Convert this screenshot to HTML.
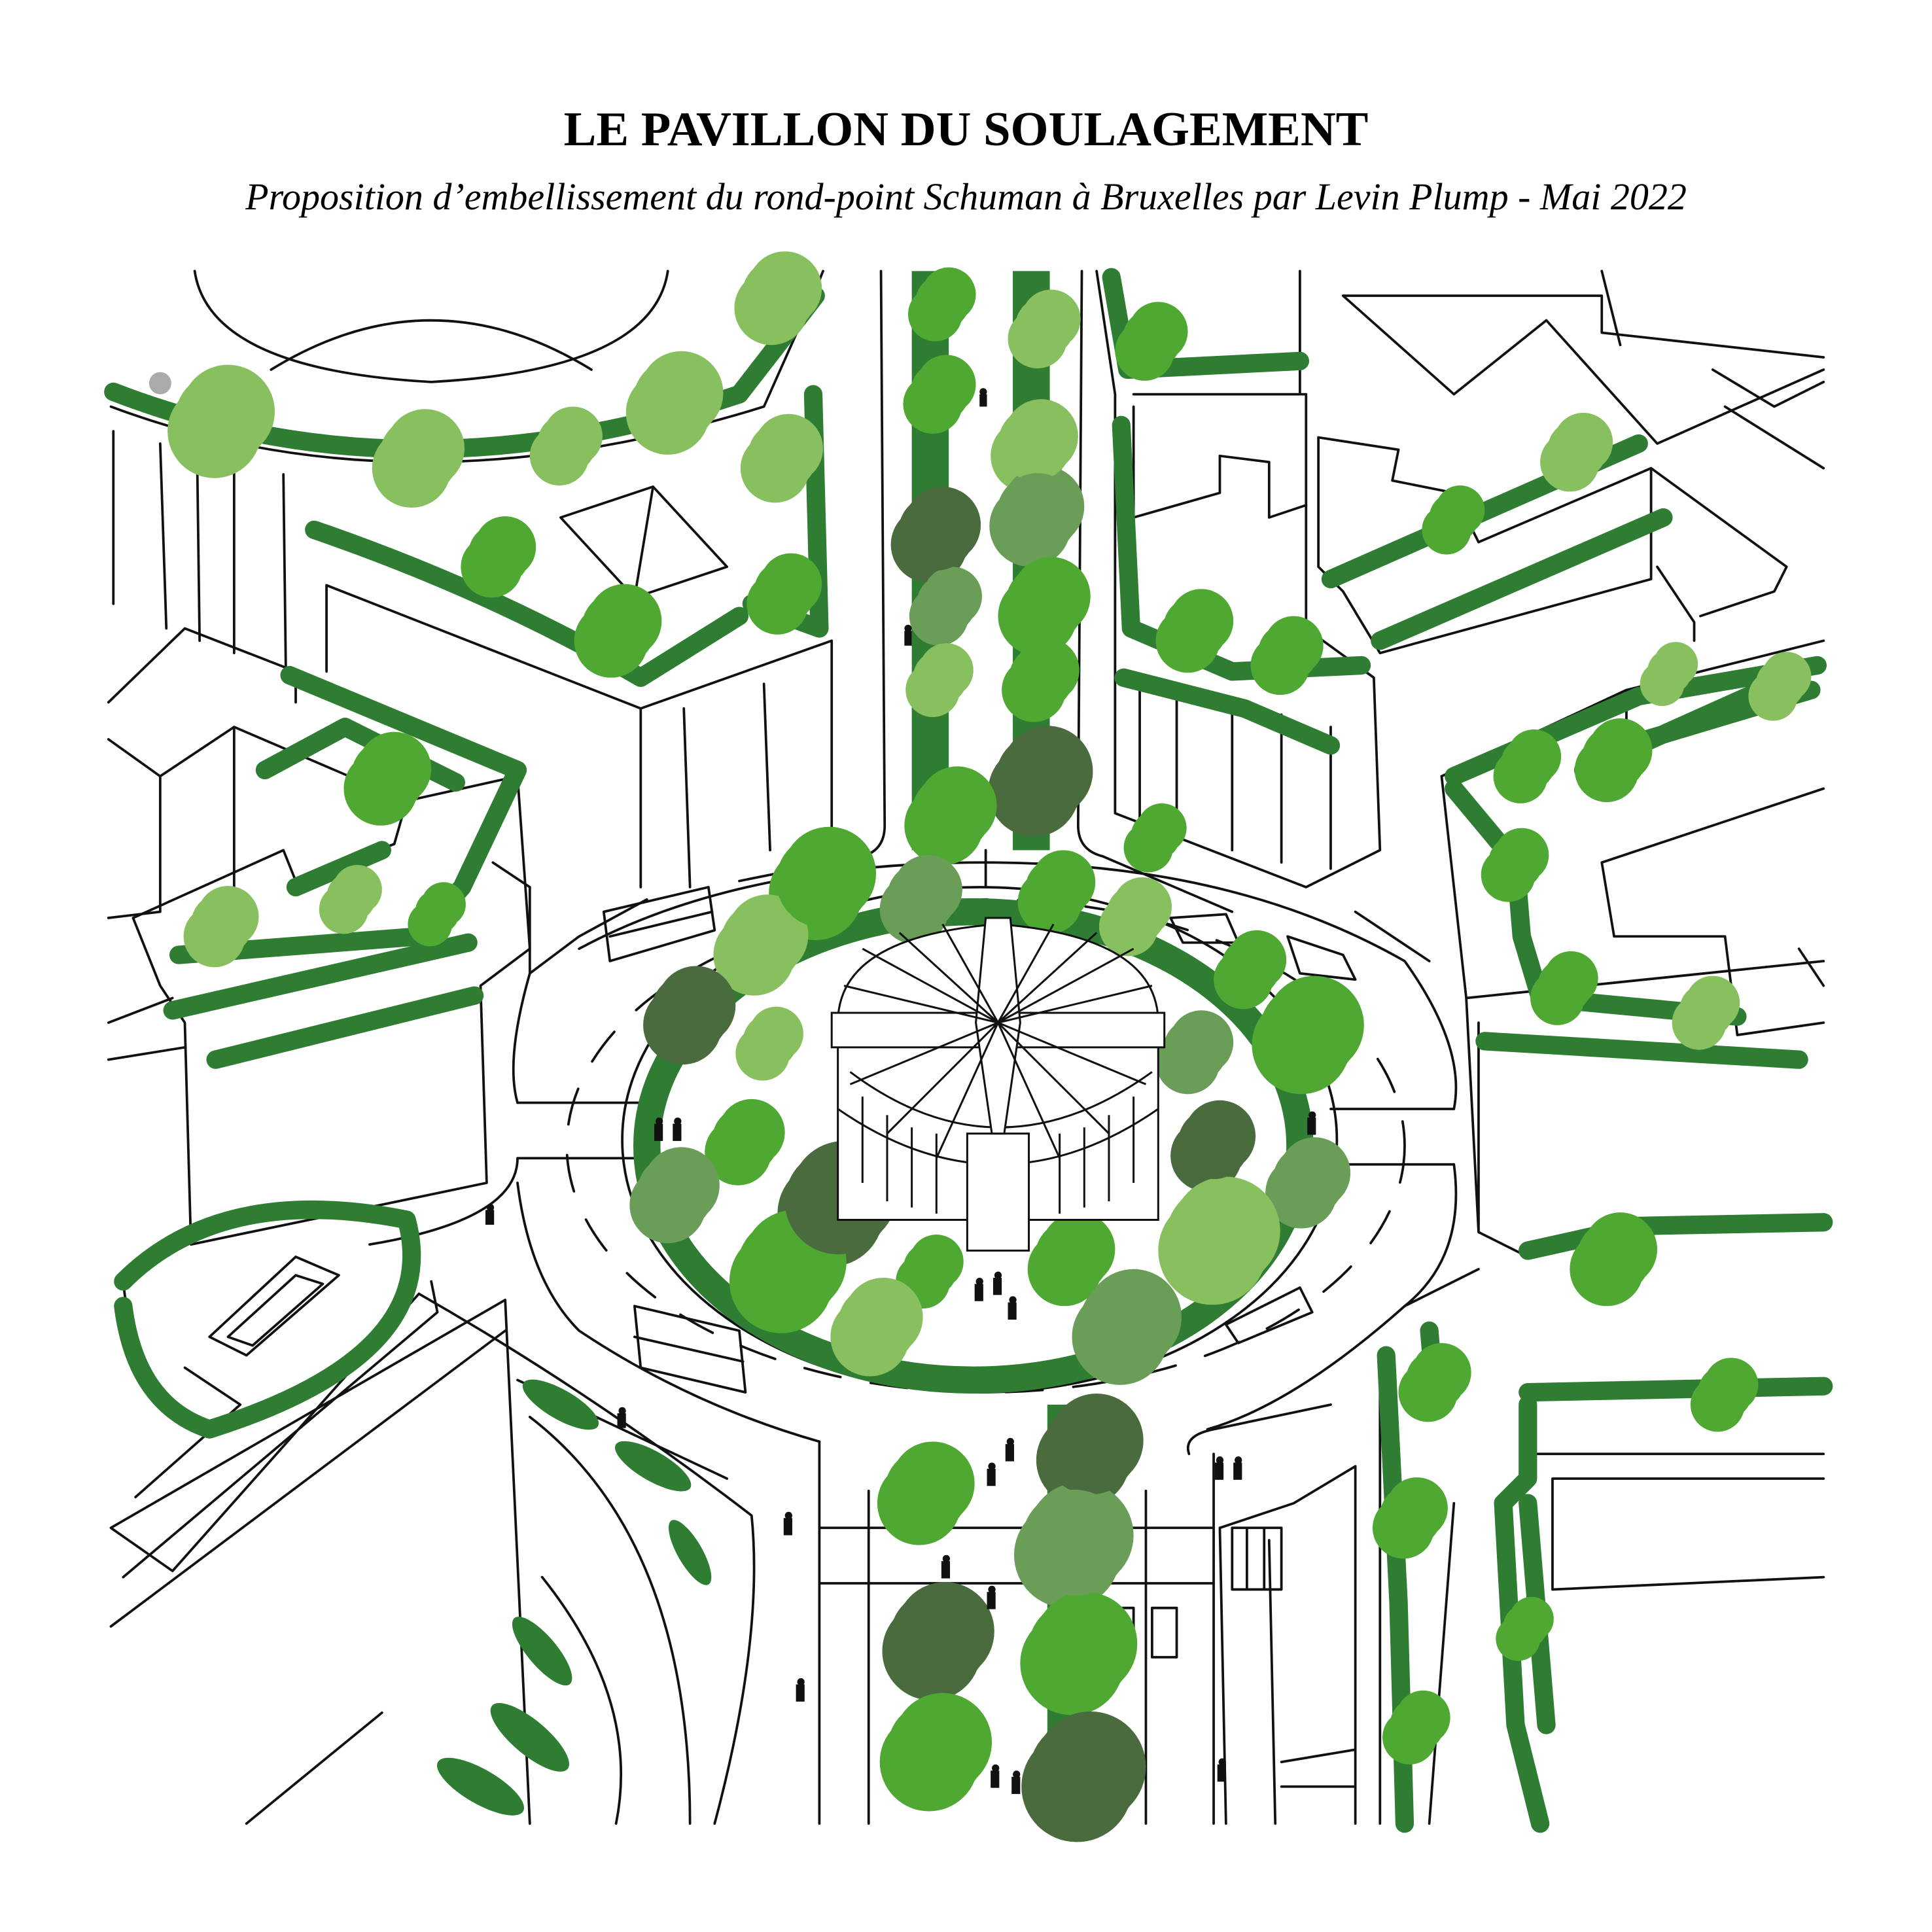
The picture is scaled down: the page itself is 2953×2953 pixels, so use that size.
<!DOCTYPE html>
<html><head><meta charset="utf-8"><style>
html,body{margin:0;padding:0;background:#fff}
svg{display:block}
</style></head><body>
<svg width="2953" height="2953" viewBox="0 0 1568 1568" xmlns="http://www.w3.org/2000/svg" xmlns:xlink="http://www.w3.org/1999/xlink">
<rect width="1568" height="1568" fill="#fff"/>
<text x="784" y="118" text-anchor="middle" font-family="Liberation Serif, serif" font-weight="bold" font-size="39.6">LE PAVILLON DU SOULAGEMENT</text>
<text x="784" y="170" text-anchor="middle" font-family="Liberation Serif, serif" font-style="italic" font-size="30.8">Proposition d’embellissement du rond-point Schuman à Bruxelles par Levin Plump - Mai 2022</text>

<g fill="none" stroke="#111" stroke-width="2" stroke-linejoin="round" stroke-linecap="round">
<path d="M158 220 Q170 300 350 310 Q530 300 542 220"/>
<path d="M220 300 Q350 220 480 300"/>
<path d="M90 330 Q330 420 620 330 L660 240 L668 220"/>
<path d="M92 350 L92 490 M130 360 L135 510 M160 370 L162 520 M190 380 L190 530 M230 385 L232 545"/>
<path d="M265 475 L520 575 L520 720 M265 475 L265 545 M520 575 L675 520 L675 690 M555 575 L560 720 M620 555 L625 690"/>
<path d="M455 420 L530 395 L590 460 L515 485 Z M530 395 L515 485"/>
<path d="M715 220 L718 670 Q718 690 700 695 L600 715"/>
<path d="M878 220 L875 670 Q875 690 895 695 L1000 740"/>
<path d="M800 690 L800 720"/>
<path d="M88 570 L150 510 L240 545 L240 570 M88 600 L130 630 L130 740 L88 745 M130 630 L190 590 L330 650 M190 590 L190 730"/>
<path d="M108 745 L230 690 L240 715 L320 685 L330 650 L420 630 L430 770 L390 800 L395 960 L155 1010 L150 830 L130 800 Z"/>
<path d="M88 830 L140 810 M88 860 L150 850"/>
<path d="M400 700 L430 720 L430 790 L470 760 L525 730"/>
<path d="M420 895 L520 895 M420 940 L520 940 M420 895 Q410 860 430 790 M420 940 Q420 990 300 1010"/>
<path d="M470 770 Q600 700 800 700 Q1000 700 1140 780 Q1190 850 1180 900 M1180 945 Q1190 1020 1140 1060 Q1050 1140 980 1160 M665 1170 Q560 1140 470 1080 Q430 1040 420 960"/>
<path d="M1180 900 L1080 900 M1180 945 L1080 945"/>
<ellipse cx="800" cy="930" rx="340" ry="200" stroke-dasharray="30 25"/>
<ellipse cx="795" cy="925" rx="290" ry="205"/>
<path d="M890 220 L905 320 L905 660 L1060 720 L1120 690 L1115 550 L1060 510 L1060 320 L920 320"/>
<path d="M920 330 L920 420 L990 400 L990 370 L1030 375 L1030 420 L1060 410 M1055 220 L1055 320 M1090 240 L1300 240 L1300 270 L1480 290 M1090 240 L1180 320 L1255 260 M1255 260 L1345 360 L1480 300 M1070 355 L1135 365 L1130 390 L1180 400 L1200 440 L1340 380 L1340 470 L1120 530 L1090 480 L1070 460 Z M1340 380 L1450 460 L1440 480 L1380 500 M1345 460 L1375 505 L1375 520"/>
<path d="M925 560 L925 670 M955 565 L955 680 M1000 570 L1000 690 M1040 580 L1040 700 M1080 590 L1080 705"/>
<path d="M1300 220 L1315 280 M1390 300 L1440 330 L1480 310 M1400 330 L1480 380"/>
<path d="M1170 630 L1320 560 L1480 520 M1170 630 L1190 810 L1200 1000 L1240 1020 M1190 810 L1480 780 M1300 700 L1480 640 M1320 560 L1320 640 M1300 700 L1310 760 L1400 760 L1410 840 L1480 830 M1200 830 L1200 1000 M1460 770 L1480 800"/>
<path d="M1100 740 L1160 780 M1140 1060 L1200 1030"/>
<path d="M1120 1100 L1120 1480 M1235 1180 L1480 1180 M1260 1200 L1480 1200 M1260 1200 L1260 1290 L1480 1280 M1180 1220 L1160 1480"/>
<path d="M965 1180 Q960 1165 985 1160 L1080 1140 M990 1240 L1050 1220 L1100 1190 L1100 1480 M990 1240 L995 1480 M1030 1250 L1035 1480 M1040 1430 L1100 1420 M1040 1450 L1100 1450"/>
<path d="M1000 1240 L1040 1240 L1040 1290 L1000 1290 Z M1012 1240 L1012 1290 M1026 1240 L1026 1290"/>
<path d="M665 1170 L665 1480 M985 1180 L985 1480 M705 1210 L705 1480 M930 1210 L930 1480" />
<path d="M665 1240 L985 1240 M665 1285 L985 1285"/>
<path d="M90 1240 L410 1055 L430 1480 M90 1240 L140 1275 L340 1050 M350 1040 L355 1065 L100 1280 M90 1320 L410 1080 M200 1480 L310 1390"/>
<path d="M100 1040 Q180 960 330 990 Q360 1100 170 1160 Q110 1140 100 1040 Z"/>
<path d="M170 1085 L240 1020 L275 1035 L200 1100 Z M185 1085 L240 1035 L262 1042 L205 1092 Z"/>
<path d="M150 1110 L195 1140 L110 1215"/>
<path d="M340 1050 Q480 1130 610 1230 Q620 1330 580 1480 M420 1120 L590 1200 M430 1150 Q560 1250 560 1480 M440 1280 Q520 1380 500 1480"/>
<path d="M490 740 L575 720 L580 755 L495 780 Z M495 760 L578 740"/>
<path d="M515 1060 L600 1080 L605 1130 L520 1110 Z M515 1085 L603 1105"/>
<path d="M950 745 L995 742 L1005 765 L960 765 Z M1045 760 L1090 775 L1100 795 L1055 790 Z M995 1075 L1055 1045 L1065 1065 L1005 1090 Z"/>
<path d="M935 1305 L955 1305 L955 1345 L935 1345 Z M905 1305 L920 1305 L920 1345 L905 1345 Z"/>
</g>

<ellipse cx="790" cy="930" rx="265" ry="190" fill="none" stroke="#2e7d32" stroke-width="22"/>
<g fill="#2e7d32">
<rect x="740" y="220" width="30" height="470"/>
<rect x="822" y="220" width="30" height="470"/>
<rect x="850" y="1140" width="28" height="340"/>
<ellipse cx="455" cy="1140" rx="35" ry="12" transform="rotate(30 455 1140)"/>
<ellipse cx="530" cy="1190" rx="35" ry="12" transform="rotate(30 530 1190)"/>
<ellipse cx="560" cy="1260" rx="30" ry="10" transform="rotate(60 560 1260)"/>
<ellipse cx="440" cy="1340" rx="35" ry="12" transform="rotate(50 440 1340)"/>
<ellipse cx="430" cy="1410" rx="40" ry="14" transform="rotate(40 430 1410)"/>
<ellipse cx="390" cy="1450" rx="40" ry="14" transform="rotate(30 390 1450)"/>
</g>

<g fill="none" stroke="#2e7d32" stroke-width="15" stroke-linecap="round" stroke-linejoin="round">
<path d="M92 318 Q330 410 600 320 L662 240"/>
<path d="M660 320 L665 510 L610 490 M255 430 Q400 480 520 550 L600 500"/>
<path d="M235 548 L420 625 L375 720 L340 760 L145 775 M215 625 L280 590 L370 635 M240 720 L310 690"/>
<path d="M140 820 L380 765 M175 860 L385 808"/>
<path d="M100 1040 Q180 960 330 990 Q360 1100 170 1160 Q110 1140 100 1060"/>
<path d="M902 225 L915 300 L1055 293 M910 345 L918 510 L1000 545 L1105 540"/>
<path d="M1080 470 L1330 360 M1120 520 L1350 420"/>
<path d="M912 550 L1010 575 L1080 605"/>
<path d="M1180 630 L1330 565 L1475 540 M1285 625 L1430 560 M1320 605 L1470 560"/>
<path d="M1180 640 L1230 700 L1235 760 L1250 810 L1410 825 M1205 845 L1460 860"/>
<path d="M1240 1015 L1330 995 L1480 992"/>
<path d="M1125 1100 L1135 1300 L1140 1480 M1160 1080 L1165 1140"/>
<path d="M1240 1140 L1240 1200 L1220 1220 L1230 1400 L1250 1480 M1240 1130 L1480 1125"/>
<path d="M1240 1220 L1255 1400"/>
</g>

<defs>
<g id="trees">
<g fill="#4ea832">
<circle cx="765" cy="245" r="22"/><circle cx="763" cy="318" r="24"/><circle cx="848" cy="490" r="32"/><circle cx="845" cy="550" r="26"/><circle cx="772" cy="660" r="32"/>
<circle cx="668" cy="715" r="38"/><circle cx="605" cy="925" r="27"/><circle cx="640" cy="1030" r="42"/><circle cx="755" cy="1030" r="22"/>
<circle cx="858" cy="722" r="26"/><circle cx="1015" cy="785" r="24"/><circle cx="1062" cy="838" r="40"/><circle cx="870" cy="1020" r="30"/>
<circle cx="752" cy="1210" r="34"/><circle cx="876" cy="1340" r="42"/><circle cx="760" cy="1420" r="40"/>
<circle cx="502" cy="510" r="30"/><circle cx="405" cy="450" r="25"/><circle cx="637" cy="480" r="25"/><circle cx="315" cy="630" r="30"/><circle cx="355" cy="740" r="18"/>
<circle cx="935" cy="275" r="24"/><circle cx="970" cy="510" r="26"/><circle cx="1045" cy="530" r="24"/><circle cx="1180" cy="420" r="20"/>
<circle cx="1310" cy="615" r="26"/><circle cx="1240" cy="620" r="22"/><circle cx="1230" cy="700" r="22"/><circle cx="1270" cy="800" r="22"/>
<circle cx="1310" cy="1020" r="30"/><circle cx="1165" cy="1120" r="24"/><circle cx="1145" cy="1230" r="25"/><circle cx="1150" cy="1400" r="22"/><circle cx="1400" cy="1130" r="22"/><circle cx="1238" cy="1320" r="18"/>
<circle cx="938" cy="678" r="20"/>
</g>
<g fill="#88c060">
<circle cx="848" cy="265" r="24"/><circle cx="840" cy="360" r="30"/><circle cx="763" cy="550" r="22"/><circle cx="618" cy="765" r="33"/><circle cx="625" cy="845" r="22"/>
<circle cx="712" cy="1075" r="32"/><circle cx="922" cy="742" r="24"/><circle cx="990" cy="1005" r="44"/>
<circle cx="180" cy="340" r="38"/><circle cx="340" cy="370" r="32"/><circle cx="548" cy="325" r="34"/><circle cx="632" cy="240" r="30"/><circle cx="635" cy="370" r="28"/><circle cx="460" cy="360" r="24"/>
<circle cx="1280" cy="365" r="24"/><circle cx="1445" cy="555" r="20"/><circle cx="1355" cy="545" r="18"/><circle cx="1385" cy="820" r="22"/>
<circle cx="180" cy="750" r="25"/><circle cx="285" cy="728" r="20"/>
</g>
<g fill="#4a6b3e">
<circle cx="760" cy="432" r="31"/><circle cx="845" cy="632" r="37"/><circle cx="560" cy="822" r="32"/><circle cx="680" cy="975" r="43"/><circle cx="985" cy="928" r="29"/>
<circle cx="885" cy="1175" r="38"/><circle cx="762" cy="1330" r="40"/><circle cx="880" cy="1440" r="45"/>
</g>
<g fill="#6a9e58">
<circle cx="842" cy="417" r="33"/><circle cx="768" cy="490" r="24"/><circle cx="748" cy="728" r="28"/><circle cx="548" cy="968" r="31"/>
<circle cx="970" cy="852" r="26"/><circle cx="1062" cy="958" r="29"/><circle cx="915" cy="1075" r="39"/><circle cx="872" cy="1252" r="43"/>
</g>
</g>
</defs>
<use xlink:href="#trees" transform="translate(-6,10)"/>
<use xlink:href="#trees" transform="translate(5,-6)"/>
<use xlink:href="#trees"/>

<g fill="#fff" stroke="#111" stroke-width="1.6">
<path d="M680 830 Q680 760 810 750 Q940 760 940 830 L940 990 L680 990 Z"/>
<rect x="675" y="822" width="270" height="28"/>
<path d="M690 870 Q810 960 935 870" fill="none"/>
<path d="M680 900 Q810 990 940 900" fill="none"/>
<path d="M785 920 L835 920 L835 1015 L785 1015 Z"/>
<path d="M800 745 L820 745 L828 830 L815 920 L805 920 L792 830 Z"/>
<g fill="none">
<path d="M810 830 L700 770 M810 830 L730 757 M810 830 L765 750 M810 830 L855 750 M810 830 L890 757 M810 830 L920 770 M810 830 L685 800 M810 830 L935 800 M810 830 L690 880 M810 830 L930 880 M810 830 L720 920 M810 830 L900 920 M810 830 L760 940 M810 830 L860 940"/>
<path d="M700 890 L700 960 M720 905 L720 975 M740 915 L740 980 M760 920 L760 985 M860 920 L860 985 M880 915 L880 980 M900 905 L900 975 M920 890 L920 960"/>
</g>
</g>

<g fill="#111">
<circle cx="798" cy="318" r="3"/><rect x="795" y="320" width="6" height="10"/>
<circle cx="737" cy="510" r="3"/><rect x="734" y="512" width="6" height="12"/>
<circle cx="810" cy="1035" r="3"/><rect x="806" y="1037" width="7" height="14"/>
<circle cx="795" cy="1040" r="3"/><rect x="791" y="1042" width="7" height="14"/>
<circle cx="822" cy="1055" r="3"/><rect x="818" y="1057" width="7" height="14"/>
<circle cx="535" cy="910" r="3"/><rect x="531" y="912" width="7" height="14"/>
<circle cx="550" cy="910" r="3"/><rect x="546" y="912" width="7" height="14"/>
<circle cx="820" cy="1170" r="3"/><rect x="816" y="1172" width="7" height="14"/>
<circle cx="805" cy="1190" r="3"/><rect x="801" y="1192" width="7" height="14"/>
<circle cx="990" cy="1185" r="3"/><rect x="986" y="1187" width="7" height="14"/>
<circle cx="1005" cy="1185" r="3"/><rect x="1001" y="1187" width="7" height="14"/>
<circle cx="640" cy="1230" r="3"/><rect x="636" y="1232" width="7" height="14"/>
<circle cx="768" cy="1265" r="3"/><rect x="764" y="1267" width="7" height="14"/>
<circle cx="805" cy="1290" r="3"/><rect x="801" y="1292" width="7" height="14"/>
<circle cx="650" cy="1365" r="3"/><rect x="646" y="1367" width="7" height="14"/>
<circle cx="808" cy="1435" r="3"/><rect x="804" y="1437" width="7" height="14"/>
<circle cx="825" cy="1440" r="3"/><rect x="821" y="1442" width="7" height="14"/>
<circle cx="992" cy="1430" r="3"/><rect x="988" y="1432" width="7" height="14"/>
<circle cx="1065" cy="905" r="3"/><rect x="1061" y="907" width="7" height="14"/>
<circle cx="398" cy="980" r="3"/><rect x="394" y="982" width="7" height="12"/>
<circle cx="505" cy="1145" r="3"/><rect x="501" y="1147" width="7" height="12"/>
</g>
<circle cx="130" cy="311" r="9" fill="#aaa"/>
</svg>
</body></html>
